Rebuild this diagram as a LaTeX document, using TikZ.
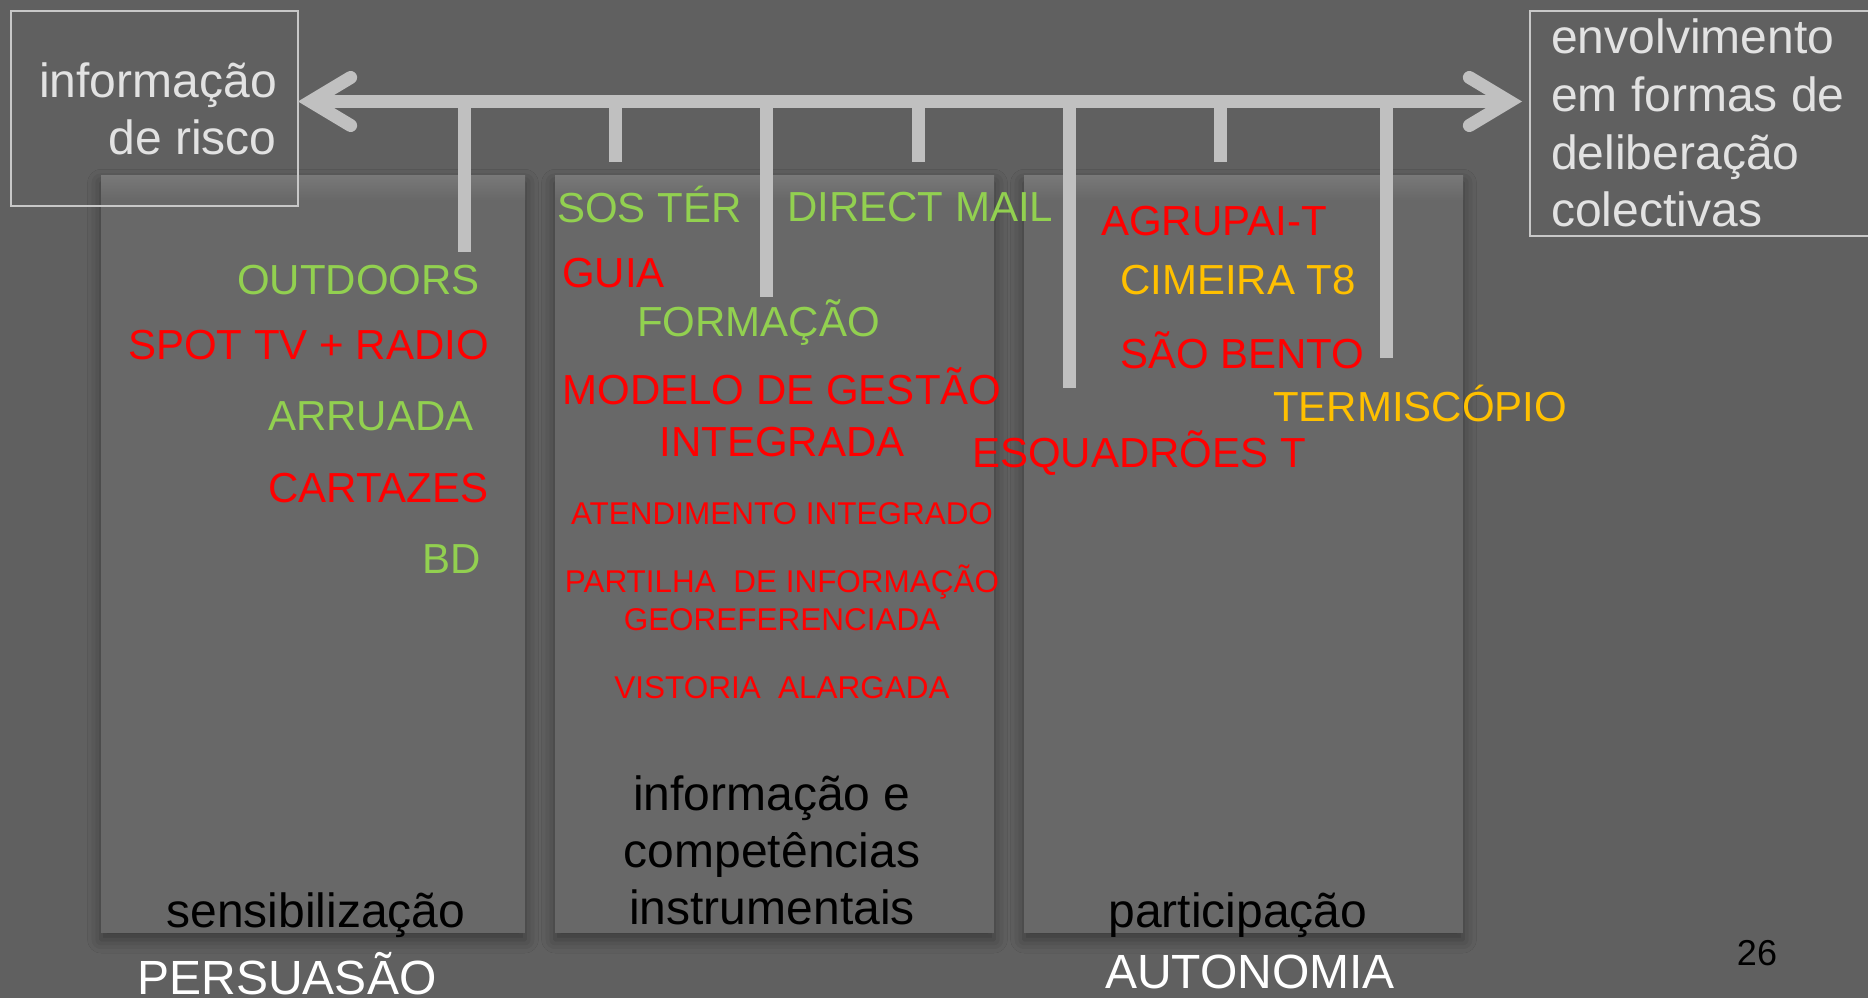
\documentclass[tikz,border=0pt]{standalone}
\usepackage{fontspec}
\setmainfont{Liberation Sans}
\usetikzlibrary{arrows.meta,shadows.blur}

\definecolor{bggray}{HTML}{606060}
\definecolor{panelgray}{HTML}{686868}
\definecolor{bandgray}{HTML}{787878}
\definecolor{linegray}{HTML}{C0C0C0}
\definecolor{boxline}{HTML}{C8C8C8}
\definecolor{boxtext}{HTML}{E2E2E2}
\definecolor{itemgreen}{HTML}{92D050}
\definecolor{itemred}{HTML}{FF0000}
\definecolor{itemyellow}{HTML}{FFC000}

\newcommand{\sizeL}{\fontsize{36}{43}\selectfont}
\newcommand{\sizeM}{\fontsize{31.5}{38}\selectfont}
\newcommand{\sizeS}{\fontsize{23.6}{28}\selectfont}
\newcommand{\sizeN}{\fontsize{27}{32}\selectfont}

\begin{document}
\begin{tikzpicture}[x=0.75pt,y=0.75pt,yscale=-1,xscale=1,
  panel/.style={fill=panelgray,blur shadow={shadow xshift=0pt,shadow yshift=-5pt,shadow blur radius=10pt,shadow opacity=40}},
  band/.style={top color=bandgray,bottom color=panelgray},
  frame/.style={draw=boxline,line width=1.1pt,inner sep=0pt,outer sep=0pt},
  tick/.style={draw=linegray,line width=9.75pt},
  every node/.style={inner sep=0pt}]
\clip (0,0) rectangle (1868,998);
\fill [bggray] (0,0) rectangle (1868,998);

%Shape: Rectangle (panels)
\path [panel] (101,176) rectangle (525,933);
\shade [band] (101,176) rectangle (525,200);
\path [panel] (555,176) rectangle (994,933);
\shade [band] (555,176) rectangle (994,200);
\path [panel] (1024,176) rectangle (1463,933);
\shade [band] (1024,176) rectangle (1463,200);

%Shape: Rectangle (end boxes)
\draw (154.5,108.5) node [frame,minimum width=215.25pt,minimum height=146.25pt] (risco) {};
\draw (1705,123.5) node [frame,minimum width=262.5pt,minimum height=168.75pt] (envolv) {};

%Straight Lines (scale)
\draw [linegray,line width=9.75pt,shorten >=6pt,
  {Straight Barb[length=30pt,width=36pt,line cap=round]}-{Straight Barb[length=30pt,width=36pt,line cap=round]}]
  (risco.east |- 0,101.5) -- (envolv.west |- 0,101.5);
%Straight Lines (ticks)
\draw [tick] (464,101) -- (464,252);
\draw [tick] (615,101) -- (615,162);
\draw [tick] (766,101) -- (766,297);
\draw [tick] (918,101) -- (918,162);
\draw [tick] (1069,101) -- (1069,388);
\draw [tick] (1220,101) -- (1220,162);
\draw [tick] (1386,101) -- (1386,358);

% Text Node
\draw (277,98) node [anchor=base east,boxtext,font=\sizeL] (risco1) {informação};
% Text Node
\draw (277,155) node [anchor=base east,boxtext,font=\sizeL] (risco2) {de risco};
% Text Node
\draw (1551,54) node [anchor=base west,boxtext,font=\sizeL] (envolv1) {envolvimento};
% Text Node
\draw (1551,112) node [anchor=base west,boxtext,font=\sizeL] (envolv2) {em formas de};
% Text Node
\draw (1551,170) node [anchor=base west,boxtext,font=\sizeL] (envolv3) {deliberação};
% Text Node
\draw (1551,227) node [anchor=base west,boxtext,font=\sizeL] (envolv4) {colectivas};

% Text Node
\draw (237,295) node [anchor=base west,itemgreen,font=\sizeM] (outdoors) {OUTDOORS};
% Text Node
\draw (128,360) node [anchor=base west,itemred,font=\sizeM] (spot) {SPOT TV + RADIO};
% Text Node
\draw (268,431) node [anchor=base west,itemgreen,font=\sizeM] (arruada) {ARRUADA};
% Text Node
\draw (268,503) node [anchor=base west,itemred,font=\sizeM] (cartazes) {CARTAZES};
% Text Node
\draw (422,573) node [anchor=base west,itemgreen,font=\sizeM] (bd) {BD};

% Text Node
\draw (557,223) node [anchor=base west,itemgreen,font=\sizeM] (sos) {SOS TÉR};
% Text Node
\draw (787,222) node [anchor=base west,itemgreen,font=\sizeM] (mail) {DIRECT MAIL};
% Text Node
\draw (562,288) node [anchor=base west,itemred,font=\sizeM] (guia) {GUIA};
% Text Node
\draw (637,337) node [anchor=base west,itemgreen,font=\sizeM] (formacao) {FORMAÇÃO};
% Text Node
\draw (782,405) node [anchor=base,itemred,font=\sizeM] (modelo1) {MODELO DE GESTÃO};
% Text Node
\draw (782,457) node [anchor=base,itemred,font=\sizeM] (modelo2) {INTEGRADA};
% Text Node
\draw (782,524) node [anchor=base,itemred,font=\sizeS] (atend) {ATENDIMENTO INTEGRADO};
% Text Node
\draw (782,592) node [anchor=base,itemred,font=\sizeS] (partilha1) {PARTILHA\ \ DE INFORMAÇÃO};
% Text Node
\draw (782,630) node [anchor=base,itemred,font=\sizeS] (partilha2) {GEOREFERENCIADA};
% Text Node
\draw (782,698) node [anchor=base,itemred,font=\sizeS] (vistoria) {VISTORIA\ \ ALARGADA};

% Text Node
\draw (1101,236) node [anchor=base west,itemred,font=\sizeM] (agrupai) {AGRUPAI-T};
% Text Node
\draw (1120,295) node [anchor=base west,itemyellow,font=\sizeM] (cimeira) {CIMEIRA T8};
% Text Node
\draw (1120,369) node [anchor=base west,itemred,font=\sizeM] (bento) {SÃO BENTO};
% Text Node
\draw (1273,422) node [anchor=base west,itemyellow,font=\sizeM] (termis) {TERMISCÓPIO};
% Text Node
\draw (972,468) node [anchor=base west,itemred,font=\sizeM] (esquad) {ESQUADRÕES T};

% Text Node
\draw (316,927) node [anchor=base,black,font=\sizeL] (sens) {sensibilização};
% Text Node
\draw (772,810) node [anchor=base,black,font=\sizeL] (info1) {informação e};
% Text Node
\draw (772,867) node [anchor=base,black,font=\sizeL] (info2) {competências};
% Text Node
\draw (772,924) node [anchor=base,black,font=\sizeL] (info3) {instrumentais};
% Text Node
\draw (1238,927) node [anchor=base,black,font=\sizeL] (part) {participação};
% Text Node
\draw (287,994) node [anchor=base,white,font=\sizeL] (persuasao) {PERSUASÃO};
% Text Node
\draw (1250,988) node [anchor=base,white,font=\sizeL] (autonomia) {AUTONOMIA};
% Text Node
\draw (1757,965) node [anchor=base,black,font=\sizeN] (pagenum) {26};

\end{tikzpicture}
\end{document}
